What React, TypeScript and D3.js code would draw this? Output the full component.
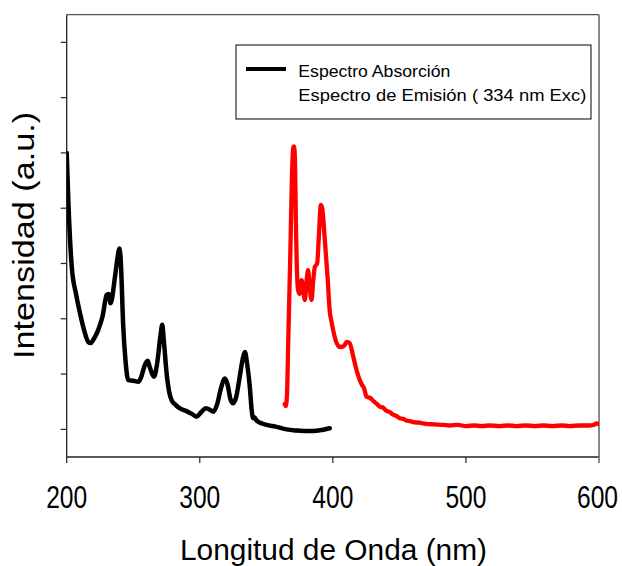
import React from "react";
import * as d3 from "d3";

const absNm = [200, 201.2, 203.8, 207, 210, 213, 216.2, 218, 220, 223.7, 227, 230, 231.5, 233, 236.3, 238.5, 239.5, 240.5, 242.5, 244, 246.3, 250, 253.8, 256, 258.5, 260.8, 262.5, 265.6, 268, 270.5, 271.8, 273, 275.1, 277, 278.8, 282, 285.1, 290, 294, 297.6, 301, 304.6, 308, 310.1, 313, 316, 318.9, 321, 323, 325.1, 327.5, 330, 332.5, 333.9, 335.5, 337.6, 339, 340.1, 341, 343, 350.2, 357, 365.2, 372, 378, 385.2, 392, 397.7];
const absVal = [5.0, 4.15, 2.94, 2.45, 2.1, 1.8, 1.58, 1.56, 1.62, 1.8, 2.05, 2.43, 2.45, 2.28, 2.76, 3.15, 3.27, 3.1, 1.86, 1.3, 0.89, 0.88, 0.86, 0.95, 1.15, 1.24, 1.12, 0.95, 1.2, 1.7, 1.89, 1.6, 1.01, 0.68, 0.53, 0.44, 0.38, 0.33, 0.28, 0.23, 0.31, 0.38, 0.35, 0.32, 0.45, 0.75, 0.92, 0.8, 0.55, 0.47, 0.6, 0.95, 1.3, 1.4, 1.2, 0.77, 0.35, 0.2, 0.22, 0.15, 0.08, 0.05, 0.0, -0.02, -0.03, -0.03, -0.01, 0.02];

const emNm = [363.8, 364.6, 365.5, 366.5, 368.1, 369.2, 370.2, 370.8, 371.5, 372.2, 373.3, 373.9, 375, 376.5, 377.5, 379, 380.3, 381.4, 382.5, 384, 385.3, 386.5, 388.2, 389.5, 391, 392, 394, 396, 397.7, 399, 400.2, 402, 405.2, 408, 410.5, 412.7, 415, 417.5, 420.2, 422, 423.5, 425.3, 428, 431, 433, 435.3, 438, 440, 443, 445, 448, 450.3, 453, 455, 458, 460.3, 465, 470, 476, 482.8, 488, 494, 500, 506, 512, 518, 525, 532, 538, 545, 552, 558, 565, 572, 578, 585, 592, 596, 598, 599];
const emVal = [0.46, 0.42, 0.6, 1.62, 3.24, 4.51, 5.09, 5.12, 4.9, 3.78, 2.7, 2.52, 2.45, 2.7, 2.55, 2.34, 2.7, 2.88, 2.6, 2.34, 2.7, 2.94, 3.0, 3.5, 4.06, 4.0, 3.42, 2.76, 2.13, 1.95, 1.8, 1.62, 1.49, 1.5, 1.58, 1.56, 1.35, 1.1, 0.89, 0.8, 0.74, 0.59, 0.57, 0.5, 0.46, 0.41, 0.39, 0.34, 0.31, 0.27, 0.24, 0.2, 0.19, 0.16, 0.15, 0.13, 0.12, 0.1, 0.09, 0.08, 0.07, 0.08, 0.06, 0.07, 0.06, 0.07, 0.06, 0.07, 0.06, 0.07, 0.06, 0.07, 0.06, 0.07, 0.06, 0.07, 0.07, 0.08, 0.11, 0.1];

const xTicks = [200, 300, 400, 500, 600];
const yTicks = [0, 1, 2, 3, 4, 5, 6, 7];
const legendLabels = ["Espectro Absorción", "Espectro de Emisión ( 334 nm Exc)"];

const FONT = "'Liberation Sans', Arial, sans-serif";

export default function App() {
  const W = 622, H = 566;
  const left = 66.7, right = 599, top = 14.7, bottom = 457;
  const x = d3.scaleLinear().domain([200, 600]).range([left, right]);
  const y = d3.scaleLinear().domain([-0.5, 7.5]).range([bottom, top]);

  const line = d3.line<[number, number]>()
    .x((d) => x(d[0]))
    .y((d) => y(d[1]))
    .curve(d3.curveMonotoneX);

  const absPath = line(absNm.map((n, i) => [n, absVal[i]] as [number, number])) || "";
  const emPath = line(emNm.map((n, i) => [n, emVal[i]] as [number, number])) || "";

  const yTitleCx = 33.5, yTitleCy = 235.4;

  return (
    <svg width={W} height={H} style={{ position: "absolute", left: 0, top: 0, background: "#fff" }} fontFamily={FONT}>
      <rect x={0} y={0} width={W} height={H} fill="#fff" />
      <defs>
        <clipPath id="plot">
          <rect x={left} y={top} width={right - left} height={bottom - top} />
        </clipPath>
      </defs>

      {/* frame */}
      <line x1={left} x2={right} y1={top} y2={top} stroke="#555" strokeWidth={1.2} />
      <line x1={right} x2={right} y1={top} y2={bottom} stroke="#888" strokeWidth={2} />
      <line x1={left} x2={left} y1={top} y2={bottom + 0.5} stroke="#222" strokeWidth={1.3} />
      <line x1={left} x2={right} y1={bottom} y2={bottom} stroke="#222" strokeWidth={1.3} />

      {/* y ticks */}
      {yTicks.map((t) => (
        <line key={"yt" + t} x1={left - 6} x2={left} y1={y(t)} y2={y(t)} stroke="#222" strokeWidth={1.2} />
      ))}
      {/* x ticks */}
      {xTicks.map((t) => (
        <g key={"xt" + t}>
          <line x1={x(t)} x2={x(t)} y1={bottom} y2={bottom + 6} stroke={t === 600 ? "#888" : "#222"} strokeWidth={t === 600 ? 2 : 1.2} />
          <text
            transform={`translate(${t === 600 ? x(t) - 1.5 : x(t)},507.7) scale(1,1.27)`}
            fontSize={24.6}
            textAnchor="middle"
            fill="#000"
          >
            {t}
          </text>
        </g>
      ))}

      {/* data */}
      <g clipPath="url(#plot)">
        <path d={absPath} fill="none" stroke="#000" strokeWidth={4.5} strokeLinejoin="round" strokeLinecap="round" />
        <path d={emPath} fill="none" stroke="#ff0000" strokeWidth={4.3} strokeLinejoin="round" strokeLinecap="round" />
      </g>

      {/* axis titles */}
      <text x={180} y={560} fontSize={30} textLength={307} lengthAdjust="spacingAndGlyphs" fill="#000">
        Longitud de Onda (nm)
      </text>
      <text
        transform={`translate(${yTitleCx},${yTitleCy}) rotate(-90)`}
        x={0}
        y={0}
        fontSize={29}
        textAnchor="middle"
        textLength={247}
        lengthAdjust="spacingAndGlyphs"
        fill="#000"
      >
        Intensidad (a.u.)
      </text>

      {/* legend */}
      <rect x={236} y={45} width={355} height={74} fill="#fff" stroke="#000" strokeWidth={1} />
      <line x1={246} x2={286} y1={69} y2={69} stroke="#000" strokeWidth={4} />
      <text x={298.3} y={76.7} fontSize={16.5} textLength={152} lengthAdjust="spacingAndGlyphs" fill="#000">
        {legendLabels[0]}
      </text>
      <text x={298.3} y={101} fontSize={16.5} textLength={288} lengthAdjust="spacingAndGlyphs" fill="#000">
        {legendLabels[1]}
      </text>
    </svg>
  );
}
